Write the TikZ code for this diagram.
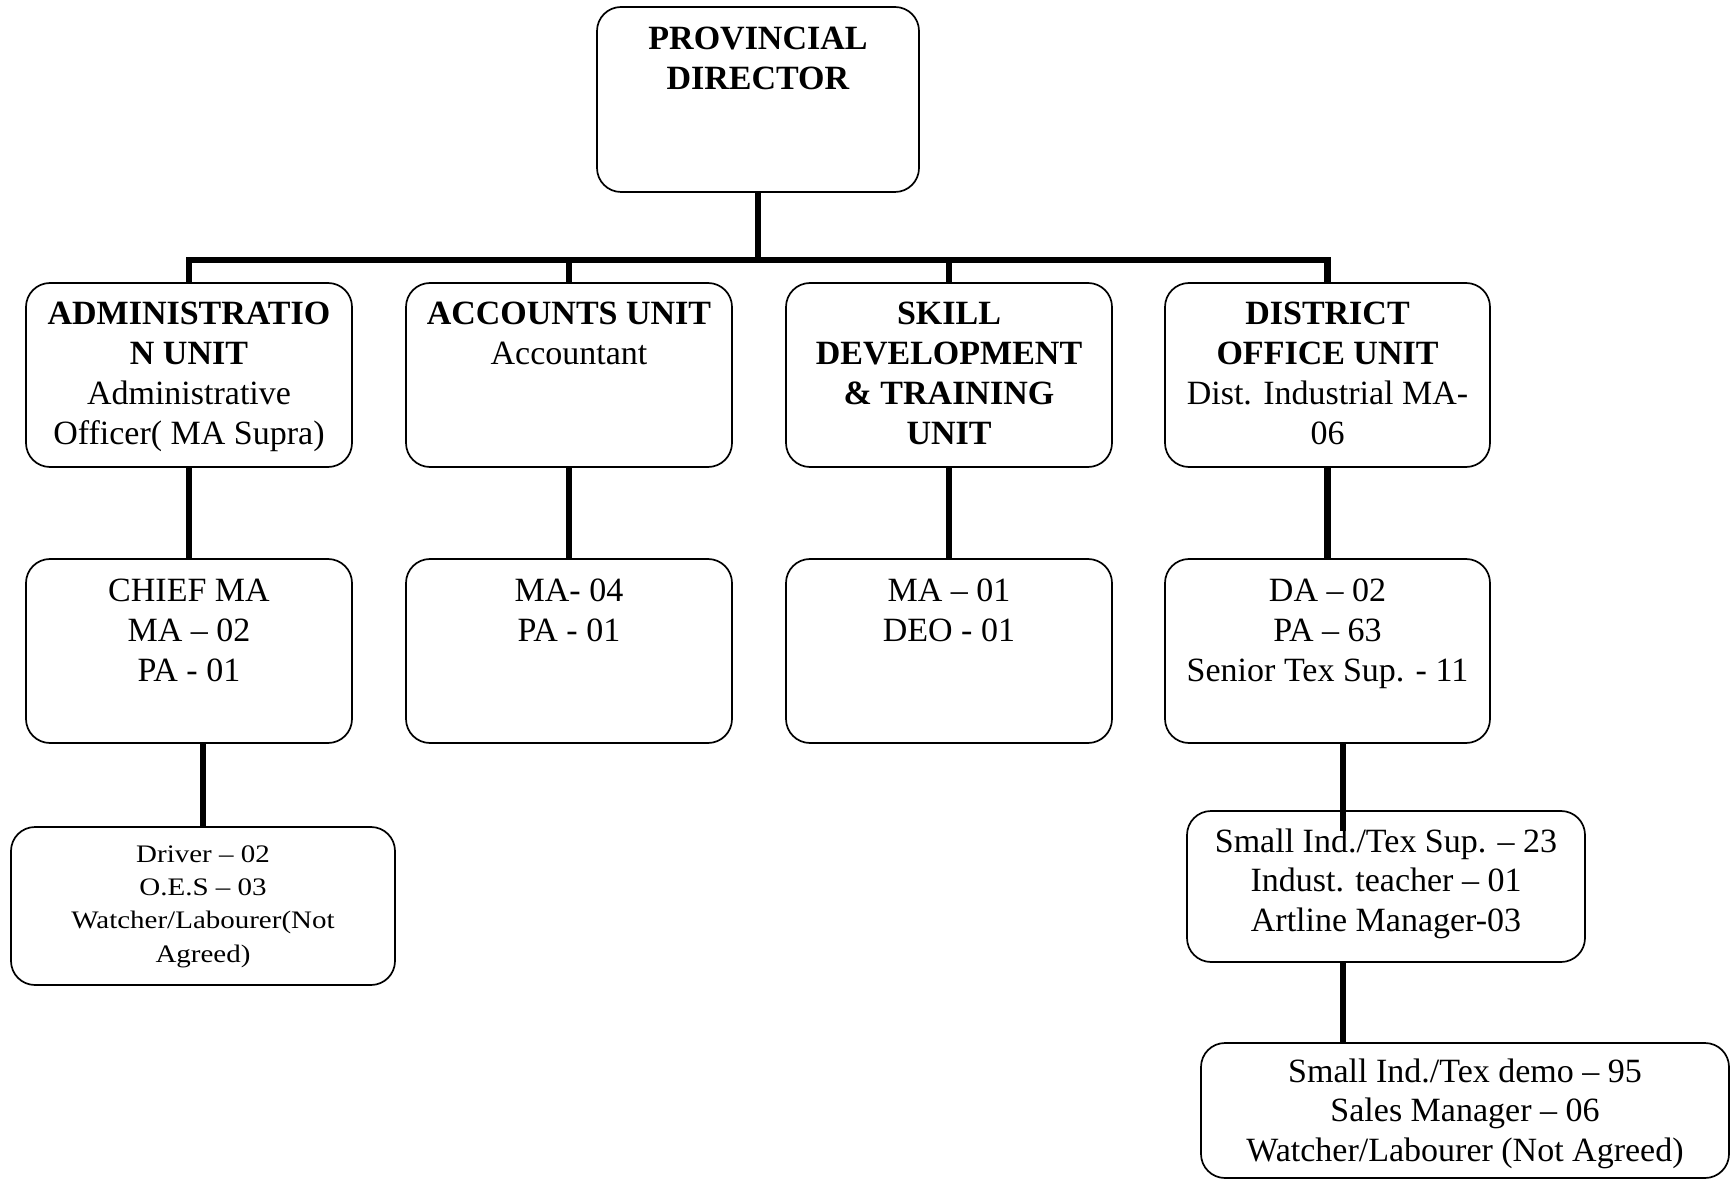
\documentclass[tikz,border=0pt]{standalone}
\usepackage{fontspec}
\setmainfont{Liberation Serif}
\newfontfamily\widefont[FakeStretch=1.15]{Liberation Serif}
\usetikzlibrary{calc}
\begin{document}
\begin{tikzpicture}[x=0.5pt,y=-0.5pt,
  box/.style={draw, line width=0.85pt, rounded corners=12pt, inner sep=0pt},
  conn/.style={line width=3.2pt},
  txt/.style={align=center, inner sep=0pt, anchor=north, font=\fontsize{17pt}{20pt}\selectfont},
  txts/.style={align=center, inner sep=0pt, anchor=north, font=\fontsize{17pt}{19.7pt}\selectfont},
  txtd/.style={align=center, inner sep=0pt, anchor=north, font=\widefont\fontsize{12.6pt}{16.6pt}\selectfont}]
\useasboundingbox (0,0) rectangle (1734,1181);
% boxes
\node[box, minimum width=161pt, minimum height=92.5pt] (pd) at (758,99.5) {};
\node[box, minimum width=163pt, minimum height=92pt] (adm) at (189,375) {};
\node[box, minimum width=163pt, minimum height=92pt] (acc) at (569,375) {};
\node[box, minimum width=163pt, minimum height=92pt] (skl) at (949,375) {};
\node[box, minimum width=162.5pt, minimum height=92pt] (dst) at (1327.5,375) {};
\node[box, minimum width=163pt, minimum height=92pt] (chf) at (189,651) {};
\node[box, minimum width=163pt, minimum height=92pt] (acc2) at (569,651) {};
\node[box, minimum width=163pt, minimum height=92pt] (skl2) at (949,651) {};
\node[box, minimum width=162.5pt, minimum height=92pt] (dst2) at (1327.5,651) {};
\node[box, minimum width=192pt, minimum height=79pt] (drv) at (203,906) {};
\node[box, minimum width=199pt, minimum height=75.5pt] (sml) at (1386,886.5) {};
\node[box, minimum width=264pt, minimum height=67.5pt] (dem) at (1465,1110.5) {};
% texts
\node[txt] (pdT) at ($(pd.north)+(0,19)$) {\rule{0pt}{12pt}\textbf{PROVINCIAL}\\\textbf{DIRECTOR}};
\node[txt] (admT) at ($(adm.north)+(0,18)$) {\rule{0pt}{12pt}\textbf{ADMINISTRATIO}\\\textbf{N UNIT}\\Administrative\\Officer( MA Supra)};
\node[txt] (accT) at ($(acc.north)+(0,18)$) {\rule{0pt}{12pt}\textbf{ACCOUNTS UNIT}\\Accountant};
\node[txt] (sklT) at ($(skl.north)+(0,18)$) {\rule{0pt}{12pt}\textbf{SKILL}\\\textbf{DEVELOPMENT}\\\textbf{\& TRAINING}\\\textbf{UNIT}};
\node[txt] (dstT) at ($(dst.north)+(0,18)$) {\rule{0pt}{12pt}\textbf{DISTRICT}\\\textbf{OFFICE UNIT}\\Dist. Industrial MA-\\06};
\node[txt] (chfT) at ($(chf.north)+(0,19)$) {\rule{0pt}{12pt}CHIEF MA\\MA – 02\\PA - 01};
\node[txt] (acc2T) at ($(acc2.north)+(0,19)$) {\rule{0pt}{12pt}MA- 04\\PA - 01};
\node[txt] (skl2T) at ($(skl2.north)+(0,19)$) {\rule{0pt}{12pt}MA – 01\\DEO - 01};
\node[txt] (dst2T) at ($(dst2.north)+(0,19)$) {\rule{0pt}{12pt}DA – 02\\PA – 63\\Senior Tex Sup. - 11};
\node[txtd] (drvT) at ($(drv.north)+(0,18)$) {\rule{0pt}{9pt}Driver – 02\\O.E.S – 03\\Watcher/Labourer(Not\\Agreed)};
\node[txts] (smlT) at ($(sml.north)+(0,18)$) {\rule{0pt}{12pt}Small Ind./Tex Sup. – 23\\Indust. teacher – 01\\Artline Manager-03};
\node[txts] (demT) at ($(dem.north)+(0,16)$) {\rule{0pt}{12pt}Small Ind./Tex demo – 95\\Sales Manager – 06\\Watcher/Labourer (Not Agreed)};
% connectors
\coordinate (bus) at ($(pd.south)+(0,67)$);
\draw[conn] (pd.south) -- (bus);
\draw[conn] (adm.north) |- (bus) -| (dst.north);
\draw[conn] (acc.north) -- (acc.north |- bus);
\draw[conn] (skl.north) -- (skl.north |- bus);
\draw[conn] (adm.south) -- (chf.north);
\draw[conn] (acc.south) -- (acc2.north);
\draw[conn] (skl.south) -- (skl2.north);
\draw[conn] (dst.south) -- (dst2.north);
\draw[conn] (drv.north) -- (drv.north |- chf.south);
\coordinate (j1) at ($(dst2.south)+(15.5,0)$);
\coordinate (j1e) at ($(j1 |- sml.north)+(0,21)$);
\draw[conn] (j1) -- (j1e);
\draw[conn] (j1 |- sml.south) -- (j1 |- dem.north);
\end{tikzpicture}
\end{document}
